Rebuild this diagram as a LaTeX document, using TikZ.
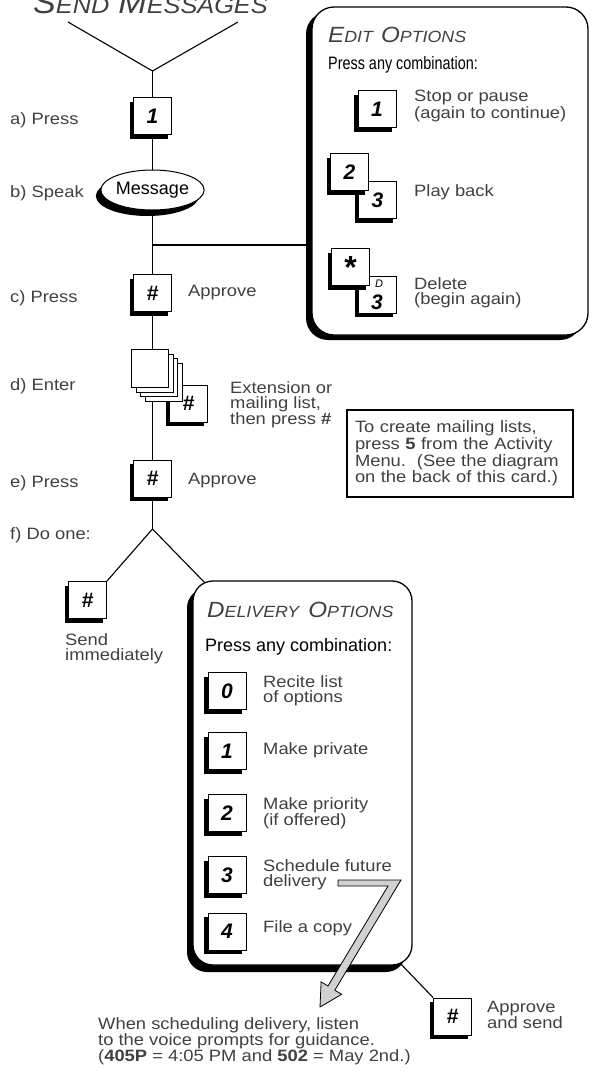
\documentclass[tikz,border=0pt]{standalone}
\usepackage{fontspec}
\setmainfont{Liberation Sans}
\newfontfamily\lightfont[FakeStretch=1.12]{Liberation Sans}
\newfontfamily\condfont[FakeStretch=0.8]{Liberation Sans}
\newfontfamily\ttlfont[FakeStretch=1.1]{Liberation Sans}
\usetikzlibrary{shapes.geometric,shadows,calc}
\pgfdeclarelayer{bg}
\pgfsetlayers{bg,main}
\definecolor{txt}{gray}{0.25}
\definecolor{arrowgray}{gray}{0.82}
\newcommand\sctitle[2]{{\fontsize{22}{22}\selectfont #1}{\fontsize{16.2}{16.2}\selectfont #2}}
\begin{document}
\begin{tikzpicture}[x=1pt,y=-1pt,
  conn/.style={line width=1.1pt},
  keyshadow/.style={general shadow={fill=black, shadow xshift=-4pt, shadow yshift=-4pt}},
  key/.style={draw, line width=0.9pt, fill=white, minimum width=38pt, minimum height=37pt, inner sep=0pt, font=\bfseries\itshape\fontsize{21}{21}\selectfont, keyshadow},
  sheet/.style={draw, line width=0.9pt, fill=white, minimum width=37pt, minimum height=38pt, inner sep=0pt},
  lbl/.style={anchor=west, inner sep=0pt, align=left, text=txt, font=\lightfont\fontsize{16.4}{15}\selectfont},
  panel/.style={draw, line width=1.3pt, fill=white, rounded corners=22pt, inner sep=0pt},
  ttl/.style={anchor=base west, inner sep=0pt, text=txt, font=\ttlfont\itshape},
]
\useasboundingbox (0,0) rectangle (595,1071);

% ---- title and main column
\node[ttl] (title) at (33,13) {{\fontsize{31}{31}\selectfont S}{\fontsize{23}{23}\selectfont END}\hspace{9pt}{\fontsize{31}{31}\selectfont M}{\fontsize{23}{23}\selectfont ESSAGES}};
\coordinate (vl) at (68,22);
\coordinate (vr) at (238,22);
\coordinate (v1) at (152.5,71);

\node[key] (k1) at (152.5,116) {1};
\node[draw, ellipse, line width=1pt, fill=white, minimum width=101pt, minimum height=40pt, inner sep=0pt,
      general shadow={fill=black, shadow xshift=-5pt, shadow yshift=-6pt},
      font=\fontsize{18}{18}\selectfont] (msg) at (152.5,190) {Message};
\coordinate (br) at (152.5,245);
\node[key] (kc) at (152.5,293) {\#};

\node[key] (kd) at (188.5,403.5) {\#};
\node[sheet] (s4) at (163.5,382) {};
\node[sheet] (s3) at (159,377.5) {};
\node[sheet] (s2) at (154.5,373) {};
\node[sheet] (s1) at (150,368) {};

\node[key] (ke) at (152.5,478.5) {\#};
\coordinate (v2) at (152.5,529);
\node[key] (kf) at (87.5,600) {\#};

% ---- step labels
\node[lbl] (la) at (10,120.5) {a) Press};
\node[lbl] (lb) at (10,193) {b) Speak};
\node[lbl] (lc) at (10,298) {c) Press};
\node[lbl] (ld) at (10,386) {d) Enter};
\node[lbl] (le) at (10,483) {e) Press};
\node[lbl] (lf) at (10,535) {f) Do one:};
\node[lbl] (apc) at (188,293) {Approve};
\node[lbl] (ape) at (188,481) {Approve};
\node[lbl] (ext) at (230,405) {Extension or\\mailing list,\\then press \textbf{\#}};
\node[lbl] (send) at (65,649) {Send\\immediately};

% ---- note
\node[draw, line width=1.1pt, text width=210pt, inner xsep=8pt, minimum height=87pt, align=left, text=txt,
      font=\lightfont\fontsize{16.4}{16.7}\selectfont] (note) at (460,453.5)
  {To create mailing lists,\\press \textbf{5} from the Activity\\Menu.\ \ (See the diagram\\on the back of this card.)};

% ---- edit options
\node[panel, minimum width=276pt, minimum height=328pt,
      general shadow={fill=black, shadow xshift=-6pt, shadow yshift=-5pt}] (edit) at (450,171) {};
\node[ttl] (edittitle) at (328,42) {\sctitle{E}{DIT}\hspace{8pt}\sctitle{O}{PTIONS}};
\node[anchor=base west, inner sep=0pt, font=\condfont\fontsize{18}{18}\selectfont] (editpac) at (328,69) {Press any combination:};
\node[key] (e1) at (377,109) {1};
\node[lbl] (e1l) at (414,106) {Stop or pause\\(again to continue)};
\node[key] (e3) at (377.5,200) {3};
\node[key] (e2) at (349.5,172) {2};
\node[lbl] (e2l) at (414,192) {Play back};
\node[key] (e3d) at (377.5,294.5) {};
\node[inner sep=0pt, font=\itshape\fontsize{11}{11}\selectfont] (dlet) at (379,284) {D};
\node[inner sep=0pt, font=\bfseries\itshape\fontsize{21}{21}\selectfont] (d3) at (377,302) {3};
\node[key, font=\bfseries\fontsize{32}{32}\selectfont] (estar) at (350.5,267) {\raisebox{-0.32em}{*}};
\node[lbl] (edl) at (414,293) {Delete\\(begin again)};

% ---- delivery options
\node[panel, rounded corners=20pt, minimum width=219pt, minimum height=384pt,
      general shadow={fill=black, shadow xshift=-6pt, shadow yshift=-7pt}] (dbox) at (302.5,773) {};
\node[ttl] (dtitle) at (207,617) {\sctitle{D}{ELIVERY}\hspace{9pt}\sctitle{O}{PTIONS}};
\node[anchor=base west, inner sep=0pt, font=\fontsize{18}{18}\selectfont] (dpac) at (205,651) {Press any combination:};
\node[key] (d0) at (227,691) {0};
\node[lbl] (d0l) at (263,691) {Recite list\\of options};
\node[key] (d1) at (227,751) {1};
\node[lbl] (d1l) at (263,750) {Make private};
\node[key] (d2) at (227,813) {2};
\node[lbl] (d2l) at (263,813) {Make priority\\(if offered)};
\node[key] (dd3) at (227,875) {3};
\node[lbl] (d3l) at (263,875) {Schedule future\\delivery};
\node[key] (d4) at (227,931.5) {4};
\node[lbl] (d4l) at (263,928) {File a copy};

% big hollow arrow
\draw[line width=0.8pt, fill=arrowgray, line join=miter]
  (338,880) -- (401,880) -- (334.8,990.2) -- (341.7,994.3) -- (320,1007)
  -- (321.1,981.9) -- (328,986) -- (388,886) -- (338,886) -- cycle;

\node[key] (kg) at (452.5,1016.5) {\#};
\node[lbl] (kgl) at (487,1015) {Approve\\and send};
\node[lbl, font=\lightfont\fontsize{16.4}{16}\selectfont] (bottom) at (98,1041)
  {When scheduling delivery, listen\\to the voice prompts for guidance.\\(\textbf{405P} = 4:05 PM and \textbf{502} = May 2nd.)};

% ---- connectors
\begin{pgfonlayer}{bg}
\draw[conn] (vl) -- (v1) -- (vr);
\draw[conn] (v1) -- (k1.north);
\draw[conn] (k1.south) -- (msg.north);
\draw[conn] (msg.south) -- (kc.north);
\draw[conn] (br) -- (br -| edit.west);
\draw[conn] (kc.south) -- (kc.south |- s1.north);
\draw[conn] (ke.north |- s4.south) -- (ke.north);
\draw[conn] (ke.south) -- (v2);
\draw[conn] (v2) -- (kf.north east);
\draw[conn] (v2) -- ($(dbox.north west)+(14,4)$);
\draw[conn] ($(dbox.south east)+(-14,-4)$) -- (kg.north west);
\end{pgfonlayer}
\end{tikzpicture}
\end{document}
